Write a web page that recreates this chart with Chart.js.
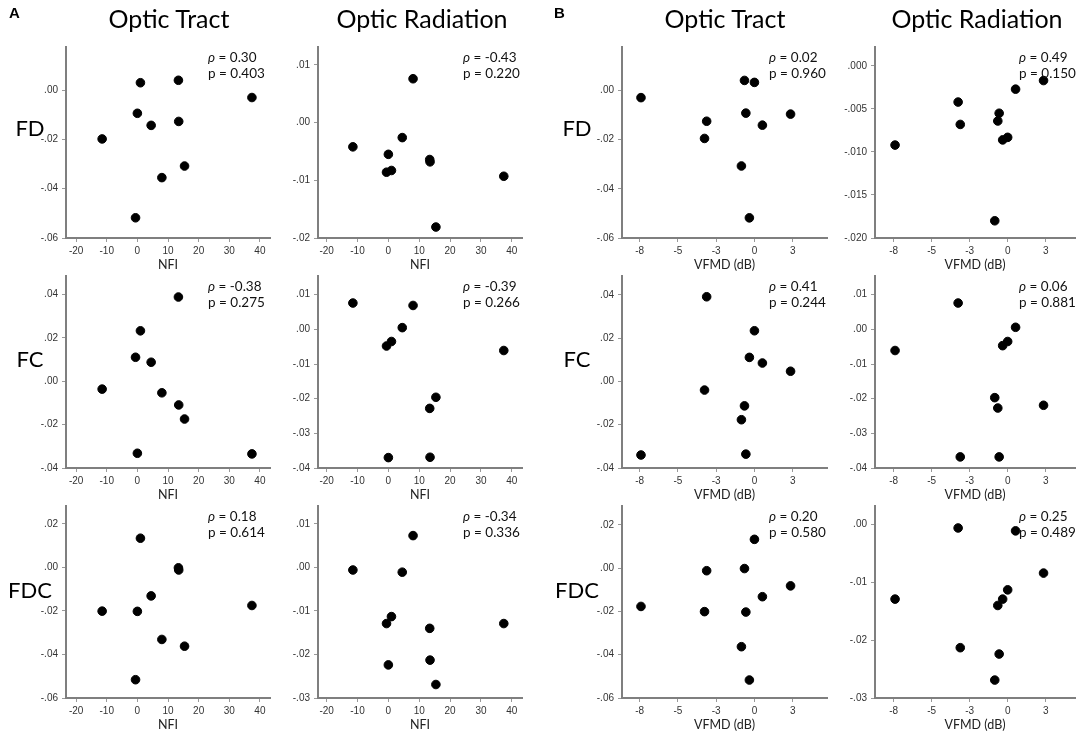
<!DOCTYPE html>
<html>
<head>
<meta charset="utf-8">
<script src="https://cdn.jsdelivr.net/npm/chart.js@4.4.1/dist/chart.umd.min.js"></script>
<style>
  html, body { margin: 0; padding: 0; background: #fff; }
  #fig { position: relative; width: 1084px; height: 733px; overflow: hidden; font-family: Lato, 'Open Sans', sans-serif; color: #000; }
  #fig canvas { position: absolute; }
  .lbl { position: absolute; white-space: nowrap; }
  .letter { font-family: 'Liberation Sans', Arial, sans-serif; font-weight: bold; font-size: 15px; }
  .title { font-size: 25px; line-height: 30px; transform: translateX(-50%); }
  .rowlbl { font-size: 22px; line-height: 26px; transform: translate(-50%, -50%); }
  .stat { font-size: 13.5px; line-height: 16px; color: #111; }
</style>
</head>
<body>
<div id="fig"></div>
<script>
// subjects, x values
var nfi  = [-11.5, -0.6, 0, 1.0, 4.5, 8.0, 13.4, 13.5, 15.4, 37.4];
var vfmd = [-7.41, -3.26, -3.12, -0.85, -0.65, -0.56, -0.33, 0, 0.52, 2.36];

// A: against NFI (same order as nfi)
var tractFdA   = [-0.0198, -0.0518, -0.0094, 0.0030, -0.0143, -0.0355, 0.0040, -0.0127, -0.0308, -0.0030];
var radFdA     = [-0.0042, -0.0086, -0.0055, -0.0083, -0.0026, 0.0076, -0.0064, -0.0068, -0.0181, -0.0093];
var tractFcA   = [-0.0036, 0.0111, -0.0332, 0.0233, 0.0088, -0.0053, 0.0389, -0.0109, -0.0174, -0.0335];
var radFcA     = [0.0076, -0.0048, -0.0370, -0.0035, 0.0005, 0.0069, -0.0228, -0.0369, -0.0196, -0.0061];
var tractFdcA  = [-0.0201, -0.0516, -0.0202, 0.0134, -0.0131, -0.0331, -0.0002, -0.0012, -0.0362, -0.0175];
var radFdcA    = [-0.0006, -0.0129, -0.0224, -0.0113, -0.0011, 0.0073, -0.0140, -0.0213, -0.0269, -0.0129];

// B: against VFMD (same order as vfmd)
var tractFdB   = [-0.0029, -0.0195, -0.0125, -0.0307, 0.0041, -0.0092, -0.0518, 0.0033, -0.0141, -0.0096];
var radFdB     = [-0.0092, -0.0042, -0.0068, -0.0180, -0.0064, -0.0055, -0.0086, -0.0083, -0.0027, -0.0017];
var tractFcB   = [-0.0340, -0.0040, 0.0391, -0.0177, -0.0113, -0.0336, 0.0111, 0.0234, 0.0085, 0.0047];
var radFcB     = [-0.0061, 0.0076, -0.0368, -0.0197, -0.0227, -0.0368, -0.0047, -0.0035, 0.0006, -0.0219];
var tractFdcB  = [-0.0177, -0.0201, -0.0012, -0.0363, -0.0002, -0.0203, -0.0517, 0.0133, -0.0132, -0.0082];
var radFdcB    = [-0.0129, -0.0006, -0.0213, -0.0269, -0.0140, -0.0224, -0.0129, -0.0113, -0.0011, -0.0084];

// stats, row by row (tract, radiation)
var rhoA = ['0.30', '-0.43', '-0.38', '-0.39', '0.18', '-0.34'];
var pA   = ['0.403', '0.220', '0.275', '0.266', '0.614', '0.336'];
var rhoB = ['0.02', '0.49', '0.41', '0.06', '0.20', '0.25'];
var pB   = ['0.960', '0.150', '0.244', '0.881', '0.580', '0.489'];

// tick labels
var nfiTicks  = [-20, -10, 0, 10, 20, 30, 40];
var vfmdTicks = [-7.5, -5, -2.5, 0, 2.5];
var ticksTract2 = [-0.06, -0.04, -0.02, 0];
var ticksTract3 = [-0.04, -0.02, 0, 0.02, 0.04];
var ticksTractFdc = [-0.06, -0.04, -0.02, 0, 0.02];
var ticksRadFdA = [-0.02, -0.01, 0, 0.01];
var ticksRadFdB = [-0.02, -0.015, -0.01, -0.005, 0];
var ticksRadFc = [-0.04, -0.03, -0.02, -0.01, 0, 0.01];
var ticksRadFdcA = [-0.03, -0.02, -0.01, 0, 0.01];
var ticksRadFdcB = [-0.03, -0.02, -0.01, 0];

var titles = ['Optic Tract', 'Optic Radiation'];
var rowNames = ['FD', 'FC', 'FDC'];

// layout
var colAxisX = [66, 318, 622, 875];
var colAxisEnd = [270, 522, 827, 1075];
var rowTop = [43, 272, 502];
var rowBottom = [238, 468, 698];
var titleX = [169, 422, 725, 977];
var statDx = [142, 145, 147, 144];
var rowLabelY = [128, 359, 590];
var xRange = [[-23.3, 43.3], [-22.8, 43.3], [-8.65, 4.74], [-8.73, 4.43]];

var fig = document.getElementById('fig');

function addText(cls, html, left, top) {
    var d = document.createElement('div');
    d.className = 'lbl ' + cls;
    d.innerHTML = html;
    d.style.left = left + 'px';
    d.style.top = top + 'px';
    fig.appendChild(d);
    return d;
}

function spss(v, digits) {
    var s = Math.abs(v).toFixed(digits).replace(/^0/, '');
    return (v < -1e-9 ? '-' : '') + s;
}

function createPanel(col, row, xs, ys, yMin, yMax, yTicks, yDigits, rho, p) {
    var left = colAxisX[col] - 50;
    var top = rowTop[row] - 6;
    var canvas = document.createElement('canvas');
    canvas.width = colAxisEnd[col] - left + 6;
    canvas.height = rowBottom[row] - top + 34;
    canvas.style.left = left + 'px';
    canvas.style.top = top + 'px';
    fig.appendChild(canvas);

    var isNfi = col < 2;
    var xTicks = isNfi ? nfiTicks : vfmdTicks;

    new Chart(canvas.getContext('2d'), {
        type: 'scatter',
        data: {
            datasets: [{
                data: xs.map(function(x, i) { return { x: x, y: ys[i] }; }),
                backgroundColor: '#000',
                borderColor: '#000',
                pointRadius: 4.3,
                pointHoverRadius: 4.3
            }]
        },
        options: {
            responsive: false,
            animation: false,
            events: [],
            layout: { padding: { top: 6, right: 6, left: 0, bottom: 0 } },
            plugins: { legend: { display: false }, tooltip: { enabled: false } },
            scales: {
                x: {
                    type: 'linear',
                    min: xRange[col][0],
                    max: xRange[col][1],
                    afterBuildTicks: function(s) { s.ticks = xTicks.map(function(v) { return { value: v }; }); },
                    afterFit: function(s) { s.height = 34; },
                    grid: { drawOnChartArea: false, drawTicks: true, tickLength: 4, color: '#999' },
                    border: { display: true, color: '#7f7f7f', width: 2 },
                    ticks: {
                        padding: 3, color: '#333', autoSkip: false, maxRotation: 0,
                        font: { family: "'Liberation Sans', Arial, sans-serif", size: 10 },
                        callback: function(v) { return isNfi ? String(v) : v.toFixed(0); }
                    },
                    title: {
                        display: true, text: isNfi ? 'NFI' : 'VFMD (dB)', color: '#222', padding: 0,
                        font: { family: 'Lato', size: 12.5 }
                    }
                },
                y: {
                    type: 'linear',
                    min: yMin,
                    max: yMax,
                    afterBuildTicks: function(s) { s.ticks = yTicks.map(function(v) { return { value: v }; }); },
                    afterFit: function(s) { s.width = 50; },
                    grid: { drawOnChartArea: false, drawTicks: true, tickLength: 4, color: '#999' },
                    border: { display: true, color: '#7f7f7f', width: 2 },
                    ticks: {
                        padding: 4, color: '#333', autoSkip: false,
                        font: { family: "'Liberation Sans', Arial, sans-serif", size: 10 },
                        callback: function(v) { return spss(v, yDigits); }
                    }
                }
            }
        }
    });

    addText('stat', '<i>&rho;</i> = ' + rho + '<br>p = ' + p,
            colAxisX[col] + statDx[col], rowTop[row] + 6);
}

// panel A (NFI)
createPanel(0, 0, nfi, tractFdA, -0.06, 0.0175, ticksTract2, 2, rhoA[0], pA[0]);
createPanel(1, 0, nfi, radFdA, -0.02, 0.0131, ticksRadFdA, 2, rhoA[1], pA[1]);
createPanel(0, 1, nfi, tractFcA, -0.04, 0.0486, ticksTract3, 2, rhoA[2], pA[2]);
createPanel(1, 1, nfi, radFcA, -0.04, 0.0154, ticksRadFc, 2, rhoA[3], pA[3]);
createPanel(0, 2, nfi, tractFdcA, -0.06, 0.0282, ticksTractFdc, 2, rhoA[4], pA[4]);
createPanel(1, 2, nfi, radFdcA, -0.03, 0.0141, ticksRadFdcA, 2, rhoA[5], pA[5]);

// panel B (VFMD)
createPanel(2, 0, vfmd, tractFdB, -0.06, 0.0177, ticksTract2, 2, rhoB[0], pB[0]);
createPanel(3, 0, vfmd, radFdB, -0.02, 0.0022, ticksRadFdB, 3, rhoB[1], pB[1]);
createPanel(2, 1, vfmd, tractFcB, -0.04, 0.0487, ticksTract3, 2, rhoB[2], pB[2]);
createPanel(3, 1, vfmd, radFcB, -0.04, 0.0154, ticksRadFc, 2, rhoB[3], pB[3]);
createPanel(2, 2, vfmd, tractFdcB, -0.06, 0.0287, ticksTractFdc, 2, rhoB[4], pB[4]);
createPanel(3, 2, vfmd, radFdcB, -0.03, 0.0032, ticksRadFdcB, 2, rhoB[5], pB[5]);

// titles, row labels, panel letters
for (var c = 0; c < 4; c++) {
    addText('title', titles[c % 2], titleX[c], 3);
}
for (var r = 0; r < 3; r++) {
    addText('rowlbl', rowNames[r], 30, rowLabelY[r]);
    addText('rowlbl', rowNames[r], 577, rowLabelY[r]);
}
addText('letter', 'A', 9, 4);
addText('letter', 'B', 554, 4);
</script>
</body>
</html>
